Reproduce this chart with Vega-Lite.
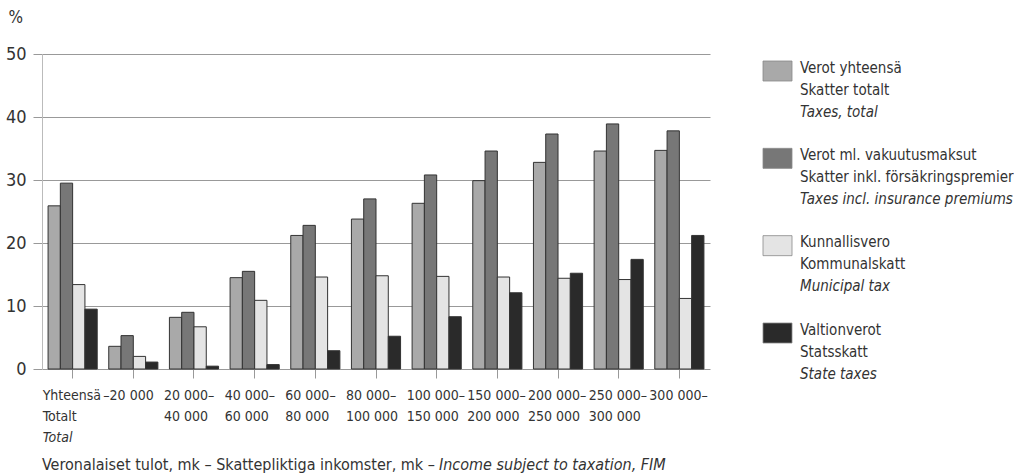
{
  "$schema": "https://vega.github.io/schema/vega-lite/v6.json",
  "autosize": {"type": "pad"},
  "padding": {"left": 5, "top": 8, "right": 0, "bottom": 0},
  "background": "white",
  "width": 668,
  "height": 315,
  "config": {
    "view": {"stroke": null},
    "font": "DejaVu Sans Condensed, Liberation Sans Narrow, sans-serif",
    "text": {"color": "#333333"}
  },
  "datasets": {
    "bars": [
      {"cat": "Yhteensä", "series": "Verot yhteensä", "value": 25.9},
      {"cat": "Yhteensä", "series": "Verot ml. vakuutusmaksut", "value": 29.5},
      {"cat": "Yhteensä", "series": "Kunnallisvero", "value": 13.4},
      {"cat": "Yhteensä", "series": "Valtionverot", "value": 9.5},
      {"cat": "–20 000", "series": "Verot yhteensä", "value": 3.6},
      {"cat": "–20 000", "series": "Verot ml. vakuutusmaksut", "value": 5.3},
      {"cat": "–20 000", "series": "Kunnallisvero", "value": 2.0},
      {"cat": "–20 000", "series": "Valtionverot", "value": 1.1},
      {"cat": "20 000–40 000", "series": "Verot yhteensä", "value": 8.2},
      {"cat": "20 000–40 000", "series": "Verot ml. vakuutusmaksut", "value": 9.0},
      {"cat": "20 000–40 000", "series": "Kunnallisvero", "value": 6.7},
      {"cat": "20 000–40 000", "series": "Valtionverot", "value": 0.45},
      {"cat": "40 000–60 000", "series": "Verot yhteensä", "value": 14.5},
      {"cat": "40 000–60 000", "series": "Verot ml. vakuutusmaksut", "value": 15.5},
      {"cat": "40 000–60 000", "series": "Kunnallisvero", "value": 10.9},
      {"cat": "40 000–60 000", "series": "Valtionverot", "value": 0.7},
      {"cat": "60 000–80 000", "series": "Verot yhteensä", "value": 21.2},
      {"cat": "60 000–80 000", "series": "Verot ml. vakuutusmaksut", "value": 22.8},
      {"cat": "60 000–80 000", "series": "Kunnallisvero", "value": 14.6},
      {"cat": "60 000–80 000", "series": "Valtionverot", "value": 2.9},
      {"cat": "80 000–100 000", "series": "Verot yhteensä", "value": 23.8},
      {"cat": "80 000–100 000", "series": "Verot ml. vakuutusmaksut", "value": 27.0},
      {"cat": "80 000–100 000", "series": "Kunnallisvero", "value": 14.8},
      {"cat": "80 000–100 000", "series": "Valtionverot", "value": 5.2},
      {"cat": "100 000–150 000", "series": "Verot yhteensä", "value": 26.3},
      {"cat": "100 000–150 000", "series": "Verot ml. vakuutusmaksut", "value": 30.8},
      {"cat": "100 000–150 000", "series": "Kunnallisvero", "value": 14.7},
      {"cat": "100 000–150 000", "series": "Valtionverot", "value": 8.3},
      {"cat": "150 000–200 000", "series": "Verot yhteensä", "value": 29.9},
      {"cat": "150 000–200 000", "series": "Verot ml. vakuutusmaksut", "value": 34.6},
      {"cat": "150 000–200 000", "series": "Kunnallisvero", "value": 14.6},
      {"cat": "150 000–200 000", "series": "Valtionverot", "value": 12.1},
      {"cat": "200 000–250 000", "series": "Verot yhteensä", "value": 32.8},
      {"cat": "200 000–250 000", "series": "Verot ml. vakuutusmaksut", "value": 37.3},
      {"cat": "200 000–250 000", "series": "Kunnallisvero", "value": 14.4},
      {"cat": "200 000–250 000", "series": "Valtionverot", "value": 15.2},
      {"cat": "250 000–300 000", "series": "Verot yhteensä", "value": 34.6},
      {"cat": "250 000–300 000", "series": "Verot ml. vakuutusmaksut", "value": 38.9},
      {"cat": "250 000–300 000", "series": "Kunnallisvero", "value": 14.2},
      {"cat": "250 000–300 000", "series": "Valtionverot", "value": 17.4},
      {"cat": "300 000–", "series": "Verot yhteensä", "value": 34.7},
      {"cat": "300 000–", "series": "Verot ml. vakuutusmaksut", "value": 37.8},
      {"cat": "300 000–", "series": "Kunnallisvero", "value": 11.2},
      {"cat": "300 000–", "series": "Valtionverot", "value": 21.2}
    ],
    "xlab": [
      {"cat": "Yhteensä", "line": 1, "text": "Yhteensä"},
      {"cat": "Yhteensä", "line": 2, "text": "Totalt"},
      {"cat": "–20 000", "line": 1, "text": "–20 000"},
      {"cat": "20 000–40 000", "line": 1, "text": "20 000–"},
      {"cat": "20 000–40 000", "line": 2, "text": "40 000"},
      {"cat": "40 000–60 000", "line": 1, "text": "40 000–"},
      {"cat": "40 000–60 000", "line": 2, "text": "60 000"},
      {"cat": "60 000–80 000", "line": 1, "text": "60 000–"},
      {"cat": "60 000–80 000", "line": 2, "text": "80 000"},
      {"cat": "80 000–100 000", "line": 1, "text": "80 000–"},
      {"cat": "80 000–100 000", "line": 2, "text": "100 000"},
      {"cat": "100 000–150 000", "line": 1, "text": "100 000–"},
      {"cat": "100 000–150 000", "line": 2, "text": "150 000"},
      {"cat": "150 000–200 000", "line": 1, "text": "150 000–"},
      {"cat": "150 000–200 000", "line": 2, "text": "200 000"},
      {"cat": "200 000–250 000", "line": 1, "text": "200 000–"},
      {"cat": "200 000–250 000", "line": 2, "text": "250 000"},
      {"cat": "250 000–300 000", "line": 1, "text": "250 000–"},
      {"cat": "250 000–300 000", "line": 2, "text": "300 000"},
      {"cat": "300 000–", "line": 1, "text": "300 000–"}
    ],
    "xlabItalic": [
      {"cat": "Yhteensä", "line": 3, "text": "Total"}
    ],
    "legendRows": [
      {"series": "Verot yhteensä", "order": 1, "l1": "Verot yhteensä", "l2": "Skatter totalt", "l3": "Taxes, total"},
      {"series": "Verot ml. vakuutusmaksut", "order": 2, "l1": "Verot ml. vakuutusmaksut", "l2": "Skatter inkl. försäkringspremier", "l3": "Taxes incl. insurance premiums"},
      {"series": "Kunnallisvero", "order": 3, "l1": "Kunnallisvero", "l2": "Kommunalskatt", "l3": "Municipal tax"},
      {"series": "Valtionverot", "order": 4, "l1": "Valtionverot", "l2": "Statsskatt", "l3": "State taxes"}
    ]
  },
  "layer": [
    {
      "data": {"name": "bars"},
      "mark": {"type": "bar", "stroke": "#333333", "strokeWidth": 1},
      "encoding": {
        "x": {
          "field": "cat", "type": "nominal",
          "scale": {
            "domain": ["Yhteensä", "–20 000", "20 000–40 000", "40 000–60 000", "60 000–80 000", "80 000–100 000", "100 000–150 000", "150 000–200 000", "200 000–250 000", "250 000–300 000", "300 000–"],
            "paddingInner": 0.19, "paddingOuter": 0.1
          },
          "axis": {"title": null, "labels": false, "ticks": true, "tickSize": 9, "tickColor": "#999999", "domain": false, "grid": false}
        },
        "xOffset": {
          "field": "series", "type": "nominal",
          "scale": {"domain": ["Verot yhteensä", "Verot ml. vakuutusmaksut", "Kunnallisvero", "Valtionverot"], "paddingInner": 0, "paddingOuter": 0}
        },
        "y": {
          "field": "value", "type": "quantitative",
          "scale": {"domain": [0, 50], "nice": false},
          "axis": {
            "values": [0, 10, 20, 30, 40, 50],
            "title": "%", "titleAngle": 0, "titleAlign": "left", "titleBaseline": "alphabetic",
            "titleX": -34, "titleY": -32, "titleFontSize": 17, "titleFontWeight": "normal", "titleColor": "#333333",
            "labelFontSize": 18, "labelColor": "#333333", "labelPadding": 7,
            "tickSize": 9, "tickColor": "#999999",
            "grid": true, "gridColor": "#999999",
            "domain": true, "domainColor": "#bbbbbb"
          }
        },
        "color": {
          "field": "series", "type": "nominal",
          "scale": {"domain": ["Verot yhteensä", "Verot ml. vakuutusmaksut", "Kunnallisvero", "Valtionverot"], "range": ["#a9a9a9", "#777777", "#e4e4e4", "#2a2a2a"]},
          "legend": null
        }
      }
    },
    {
      "data": {"name": "xlab"},
      "mark": {"type": "text", "align": "left", "baseline": "middle", "fontSize": 14, "dx": -30},
      "encoding": {
        "x": {"field": "cat", "type": "nominal"},
        "y": {"field": "line", "type": "ordinal", "scale": {"type": "point", "domain": [1, 2, 3], "range": [342, 384], "padding": 0}, "axis": null},
        "text": {"field": "text"}
      }
    },
    {
      "data": {"name": "xlabItalic"},
      "mark": {"type": "text", "align": "left", "baseline": "middle", "fontSize": 14, "fontStyle": "italic", "dx": -30},
      "encoding": {
        "x": {"field": "cat", "type": "nominal"},
        "y": {"field": "line", "type": "ordinal", "scale": {"type": "point", "domain": [1, 2, 3], "range": [342, 384], "padding": 0}, "axis": null},
        "text": {"field": "text"}
      }
    },
    {
      "data": {"values": [{"t": "Veronalaiset tulot, mk – Skattepliktiga inkomster, mk –"}]},
      "mark": {"type": "text", "align": "left", "baseline": "middle", "fontSize": 16, "x": 0, "y": 411},
      "encoding": {"text": {"field": "t"}}
    },
    {
      "data": {"values": [{"t": "Income subject to taxation, FIM"}]},
      "mark": {"type": "text", "align": "left", "baseline": "middle", "fontSize": 16, "fontStyle": "italic", "x": 397, "y": 411},
      "encoding": {"text": {"field": "t"}}
    },
    {
      "data": {"name": "legendRows"},
      "mark": {"type": "point", "filled": true, "shape": "M-1.45,-1H1.45V1H-1.45Z", "size": 400, "stroke": "#888888", "strokeWidth": 0.8, "opacity": 1, "x": 735.5},
      "encoding": {
        "y": {"field": "order", "type": "ordinal", "scale": {"type": "point", "domain": [1, 2, 3, 4], "range": [17, 279], "padding": 0}, "axis": null},
        "color": {"field": "series", "type": "nominal", "legend": null}
      }
    },
    {
      "data": {"name": "legendRows"},
      "mark": {"type": "text", "align": "left", "baseline": "middle", "fontSize": 15, "dy": -3.5, "x": 758},
      "encoding": {
        "y": {"field": "order", "type": "ordinal", "scale": {"type": "point", "domain": [1, 2, 3, 4], "range": [17, 279], "padding": 0}, "axis": null},
        "text": {"field": "l1"}
      }
    },
    {
      "data": {"name": "legendRows"},
      "mark": {"type": "text", "align": "left", "baseline": "middle", "fontSize": 15, "dy": 18.5, "x": 758},
      "encoding": {
        "y": {"field": "order", "type": "ordinal", "scale": {"type": "point", "domain": [1, 2, 3, 4], "range": [17, 279], "padding": 0}, "axis": null},
        "text": {"field": "l2"}
      }
    },
    {
      "data": {"name": "legendRows"},
      "mark": {"type": "text", "align": "left", "baseline": "middle", "fontSize": 15, "fontStyle": "italic", "dy": 40.5, "x": 758},
      "encoding": {
        "y": {"field": "order", "type": "ordinal", "scale": {"type": "point", "domain": [1, 2, 3, 4], "range": [17, 279], "padding": 0}, "axis": null},
        "text": {"field": "l3"}
      }
    }
  ],
  "resolve": {"scale": {"y": "independent"}, "axis": {"y": "independent"}}
}
